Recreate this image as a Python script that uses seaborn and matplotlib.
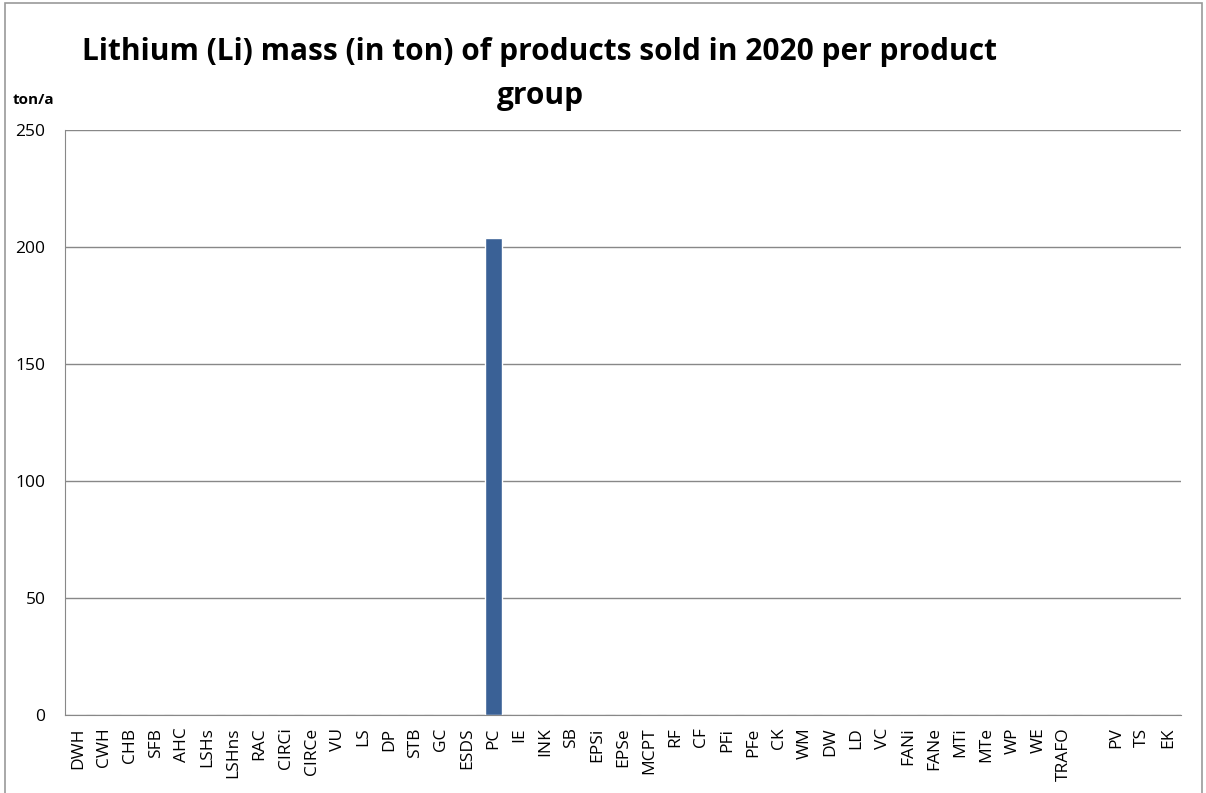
import pandas as pd
import matplotlib.pyplot as plt
import seaborn as sns
from matplotlib.patches import Rectangle

# Product groups (one empty slot between TRAFO and PV, as in the source chart)
groups = ['DWH', 'CWH', 'CHB', 'SFB', 'AHC', 'LSHs', 'LSHns', 'RAC', 'CIRCi', 'CIRCe',
          'VU', 'LS', 'DP', 'STB', 'GC', 'ESDS', 'PC', 'IE', 'INK', 'SB', 'EPSi', 'EPSe',
          'MCPT', 'RF', 'CF', 'PFi', 'PFe', 'CK', 'WM', 'DW', 'LD', 'VC', 'FANi', 'FANe',
          'MTi', 'MTe', 'WP', 'WE', 'TRAFO', ' ', 'PV', 'TS', 'EK']
li_mass = [0] * len(groups)
li_mass[groups.index('PC')] = 204

df = pd.DataFrame({'grupo': groups, 'ton': li_mass})

sns.set_style("white")
plt.rcParams['font.family'] = ['Open Sans', 'DejaVu Sans']
plt.rcParams['text.color'] = 'black'
plt.rcParams['xtick.color'] = 'black'
plt.rcParams['ytick.color'] = 'black'

fig = plt.figure(figsize=(12.06, 7.93), dpi=100)
ax = fig.add_axes([65 / 1206, 78 / 793, 1116 / 1206, 585 / 793])

sns.barplot(data=df, x='grupo', y='ton', color='#3A6196', width=0.65, ax=ax, saturation=1)

ax.set_ylim(0, 250)
ax.set_xlim(-0.5, len(groups) - 0.5)
ax.set_yticks([0, 50, 100, 150, 200, 250])
ax.yaxis.grid(True, color='#888888', linewidth=1)
ax.set_axisbelow(True)
ax.set_xlabel('')
ax.set_ylabel('')
for s in ['top', 'right']:
    ax.spines[s].set_visible(False)
ax.spines['left'].set_color('#888888')
ax.spines['bottom'].set_color('#888888')
ax.tick_params(axis='x', labelrotation=90, labelsize=12.5, length=0, pad=9)
ax.tick_params(axis='y', labelsize=12.5, length=0, pad=14)

fig.text(540 / 1206, 1 - 52 / 793, "Lithium (Li) mass (in ton) of products sold in 2020 per product",
         ha='center', va='center', fontsize=21.5, fontweight='bold')
fig.text(540 / 1206, 1 - 96 / 793, "group", ha='center', va='center', fontsize=21.5, fontweight='bold')
fig.text(13 / 1206, 1 - 100 / 793, "ton/a", ha='left', va='center', fontsize=11, fontweight='bold')

# Borda do gráfico
fig.patches.append(Rectangle((5 / 1206, -0.01), 1197 / 1206, 1 - 3 / 793 + 0.01,
                             transform=fig.transFigure, fill=False, edgecolor='#999999', linewidth=1.2))

fig.savefig('out.png', dpi=100)
